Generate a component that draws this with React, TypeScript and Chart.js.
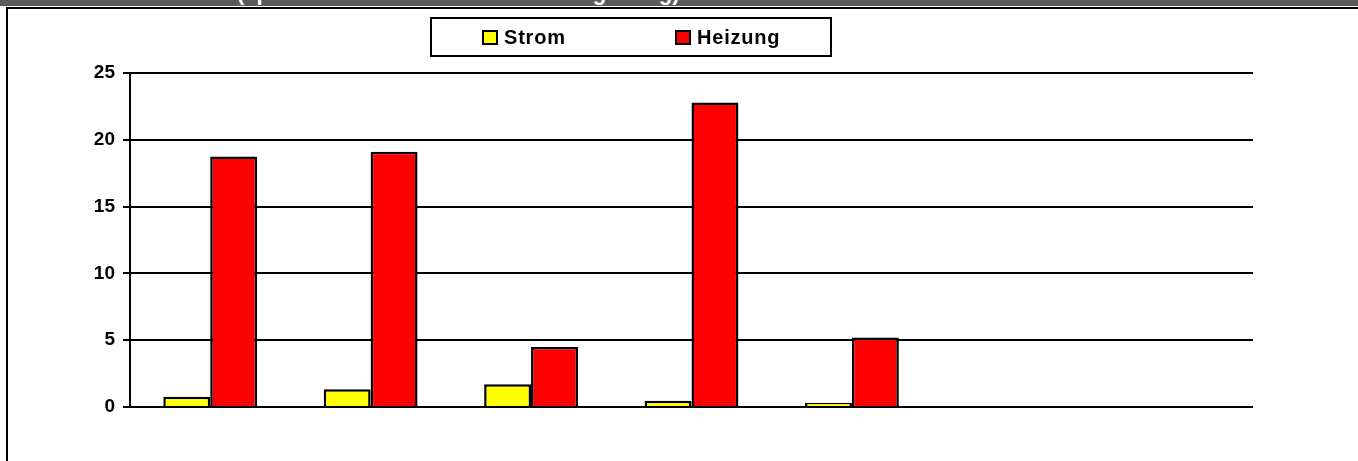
import React, { useEffect, useRef } from "react";
import { Chart, registerables } from "chart.js";

Chart.register(...registerables);

const categories = ["", "", "", "", "", "", ""];
const stromValues = [0.77, 1.32, 1.7, 0.47, 0.32, null, null];
const heizungValues = [18.75, 19.1, 4.5, 22.8, 5.2, null, null];
const yTicks = [0, 5, 10, 15, 20, 25];
const seriesLabels = ["Strom", "Heizung"];
const seriesColors = ["#ffff00", "#ff0000"];
const headerText = "(spezifischer Verbrauch in der Umgebung)";

const FONT = "'Liberation Sans', Arial, Helvetica, sans-serif";

const boxLegend = {
  id: "boxLegend",
  afterDraw(chart: any) {
    const ctx = chart.ctx as CanvasRenderingContext2D;
    ctx.save();
    ctx.fillStyle = "#ffffff";
    ctx.fillRect(431, 18, 400, 38);
    ctx.strokeStyle = "#000000";
    ctx.lineWidth = 2;
    ctx.strokeRect(431, 18, 400, 38);
    const itemX = [483, 676];
    chart.data.datasets.forEach((ds: any, i: number) => {
      const x = itemX[i];
      ctx.fillStyle = ds.backgroundColor;
      ctx.fillRect(x, 31, 14, 13);
      ctx.lineWidth = 2;
      ctx.strokeStyle = "#000000";
      ctx.strokeRect(x, 31, 14, 13);
      ctx.font = `bold 20px ${FONT}`;
      (ctx as any).letterSpacing = "0.8px";
      ctx.fillStyle = "#000000";
      ctx.textBaseline = "middle";
      ctx.textAlign = "left";
      ctx.fillText(ds.label, x + 21, 38);
    });
    ctx.restore();
  },
};

export default function App() {
  const canvasRef = useRef<HTMLCanvasElement | null>(null);

  useEffect(() => {
    document.body.style.margin = "0";
    const canvas = canvasRef.current;
    if (!canvas) return;
    const chart = new Chart(canvas, {
      type: "bar",
      data: {
        labels: categories,
        datasets: [
          {
            label: seriesLabels[0],
            data: stromValues,
            backgroundColor: seriesColors[0],
            borderColor: "#000000",
            borderWidth: 2.5,
            categoryPercentage: 0.585,
            barPercentage: 1,
          },
          {
            label: seriesLabels[1],
            data: heizungValues,
            backgroundColor: seriesColors[1],
            borderColor: "#000000",
            borderWidth: 2.5,
            categoryPercentage: 0.585,
            barPercentage: 1,
          },
        ],
      },
      options: {
        animation: false,
        responsive: false,
        maintainAspectRatio: false,
        layout: { padding: { top: 73, right: 105, bottom: 54, left: 0 } },
        plugins: {
          legend: { display: false },
          tooltip: { enabled: false },
          title: { display: false },
        },
        scales: {
          x: { display: false },
          y: {
            min: 0,
            max: 25,
            afterBuildTicks: (s: any) => {
              s.ticks = yTicks.map((v) => ({ value: v }));
            },
            afterFit: (s: any) => {
              s.width = 130;
            },
            ticks: {
              color: "#000000",
              font: { family: FONT, size: 19, weight: "bold" },
              padding: 8,
            },
            grid: {
              color: "#000000",
              lineWidth: 2,
              tickLength: 7,
              drawTicks: true,
            },
            border: { color: "#000000", width: 2 },
          },
        },
      },
      plugins: [boxLegend],
    });
    return () => chart.destroy();
  }, []);

  return (
    <div
      style={{
        position: "fixed",
        left: 0,
        top: 0,
        width: 1358,
        height: 461,
        background: "#ffffff",
        overflow: "hidden",
      }}
    >
      <div
        style={{
          position: "absolute",
          left: 0,
          top: 0,
          width: 1358,
          height: 6,
          background: "#5a5a5a",
          overflow: "hidden",
        }}
      >
        <span
          style={{
            position: "absolute",
            left: 237,
            top: -18,
            font: `bold 22px ${FONT}`,
            lineHeight: "22px",
            color: "#ffffff",
            whiteSpace: "nowrap",
          }}
        >
          {headerText}
        </span>
      </div>
      <div
        style={{
          position: "absolute",
          left: 6,
          top: 7,
          width: 1352,
          height: 2,
          background: "#000000",
        }}
      />
      <div
        style={{
          position: "absolute",
          left: 6,
          top: 7,
          width: 2,
          height: 454,
          background: "#000000",
        }}
      />
      <canvas
        ref={canvasRef}
        width={1358}
        height={461}
        style={{ position: "absolute", left: 0, top: 0, width: 1358, height: 461 }}
      />
    </div>
  );
}
